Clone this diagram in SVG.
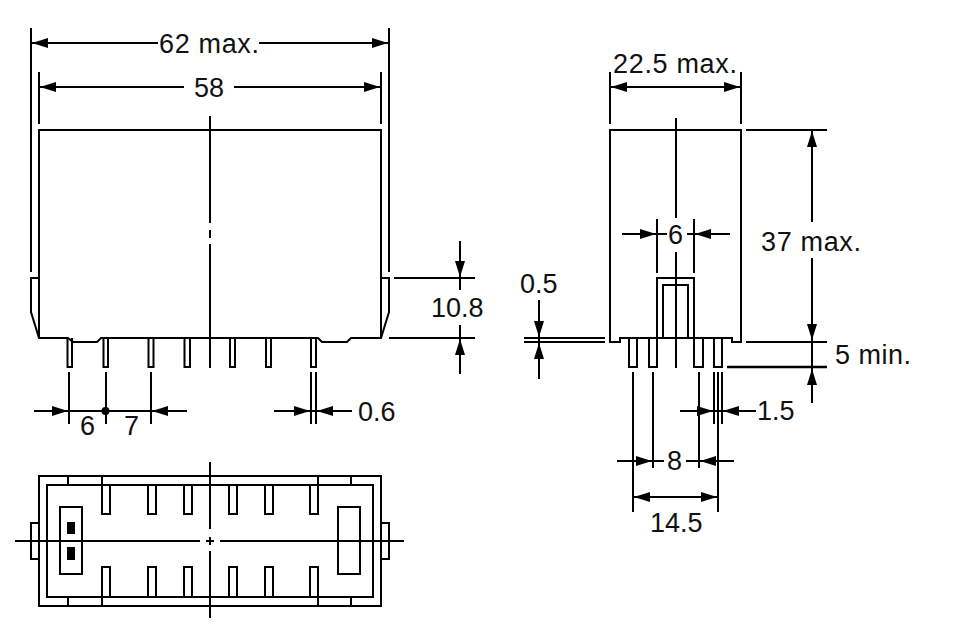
<svg xmlns="http://www.w3.org/2000/svg" width="959" height="634" viewBox="0 0 959 634">
<style>
.l{fill:none;stroke:#000;stroke-width:2}
.t{font-family:"Liberation Sans",Arial,sans-serif;font-size:27px;fill:#111}
.k{fill:none;stroke:#000;stroke-width:2;marker-end:url(#a)}
</style>
<defs>
<marker id="a" markerUnits="userSpaceOnUse" markerWidth="17" markerHeight="12" refX="16" refY="6" orient="auto"><path d="M0 1L16 6L0 11Z" fill="#000"/></marker>
</defs>
<rect width="959" height="634" fill="#fff"/>
<g id="front-view" class="l">
<path d="M39 338V130H381V338"/>
<path d="M39 278H31V312L39 338H68L73 342H97L101 338H318L322 342H347L351 338H381L389 312V278H381"/>
<path d="M210 116V223M210 230V238M210 244V368"/>
<path d="M67.500 338V367H72V338M103.500 338V367H108V338M148.500 338V367H153.500V338M184.500 338V367H190V338M230 338V367H235V338M266 338V367H271V338M311 338V367H316V338"/>
</g>
<g id="bottom-view" class="l">
<rect x="39" y="476" width="342" height="130"/>
<rect x="47" y="485" width="326" height="112"/>
<path d="M68 476V485M102 476V485M318 476V485M351 476V485M68 597V606M102 597V606M318 597V606M351 597V606"/>
<path d="M102 485V514H110V485M148 485V514H156V485M184 485V514H192V485M229 485V514H237V485M265 485V514H273V485M310 485V514H318V485"/>
<path d="M102 597V567H110V597M148 597V567H156V597M184 597V567H192V597M229 597V567H237V597M265 597V567H273V597M310 597V567H318V597"/>
<rect x="60" y="507" width="22" height="67"/>
<rect x="338" y="507" width="22" height="67"/>
<path d="M39 523H31V559H39M381 523H389V559H381"/>
<path d="M15 541H200M206 541H214M220 541H404M210 462V529M210 537V545M210 551V618"/>
<rect x="67" y="522" width="8" height="12" fill="#000" stroke="none"/>
<rect x="67" y="547" width="8" height="13" fill="#000" stroke="none"/>
</g>
<g id="side-view" class="l">
<path d="M610 130H741V342H732V338H620V342H610Z"/>
<path d="M676 118V218M676 252V368"/>
<path d="M657 338V278H694V338M663 338V285H688V338"/>
<path d="M629 338V367H637V338M649 338V367H657V338M694 338V367H703V338M714 338V367H722V338"/>
</g>
<g id="connectors">
<path class="l" d="M31 28V272M389 28V272M39 72V124M381 72V124M31 43H158M259 43H389M39 87H184M234 87H381"/>
<path class="k" d="M48 43H32"/><path class="k" d="M372 43H388"/><path class="k" d="M56 87H40"/><path class="k" d="M364 87H380"/>
<path class="l" d="M69 372V424M106 372V424M151 372V424M34 411H187"/>
<path class="k" d="M52 411H68"/><path class="k" d="M168 411H152"/>
<circle cx="105.500" cy="411" r="4" fill="#000"/>
<path class="l" d="M311 372V424M316 372V424M274 411H352"/>
<path class="k" d="M294 411H310"/><path class="k" d="M333 411H317"/>
<path class="l" d="M394 278H475M389 338H475M460 241V290M460 325V374"/>
<path class="k" d="M460 261V277"/><path class="k" d="M460 355V339"/>
<path class="l" d="M610 72V124M741 72V124M610 87H741"/>
<path class="k" d="M627 87H611"/><path class="k" d="M724 87H740"/>
<path class="l" d="M746 130H827M746 342H827M812 130V222M812 258V403"/>
<path d="M727 367H827" fill="none" stroke="#000" stroke-width="2.600"/>
<path class="k" d="M812 148V131"/><path class="k" d="M812 324V340"/><path class="k" d="M812 385V369"/>
<path class="l" d="M657 219V273M694 219V273M622 234H667M687 234H730"/>
<path class="k" d="M640 234H656"/><path class="k" d="M711 234H695"/>
<path class="l" d="M524 338H605M524 342H605M539 300V379"/>
<path class="k" d="M539 321V337"/><path class="k" d="M539 359V343"/>
<path class="l" d="M633 372V512M653 372V468M699 372V468M714 372V424M718 372V512M722 372V424"/>
<path class="l" d="M680 411H756M617 461H664M686 461H734M633 497H718"/>
<path class="k" d="M697 411H713"/><path class="k" d="M739 411H723"/>
<path class="k" d="M636 461H652"/><path class="k" d="M716 461H700"/>
<path class="k" d="M650 497H634"/><path class="k" d="M701 497H717"/>
</g>
<g id="labels" class="t">
<text x="159" y="53" textLength="100">62 max.</text>
<text x="194" y="97">58</text>
<text x="80" y="435">6</text>
<text x="124" y="435">7</text>
<text x="358" y="421">0.6</text>
<text x="431" y="317">10.8</text>
<text x="520" y="293">0.5</text>
<text x="613" y="73" textLength="124">22.5 max.</text>
<text x="668" y="244">6</text>
<text x="761" y="251" textLength="100">37 max.</text>
<text x="835" y="364" textLength="76">5 min.</text>
<text x="757" y="420">1.5</text>
<text x="667" y="470">8</text>
<text x="650" y="532">14.5</text>
</g>
</svg>
